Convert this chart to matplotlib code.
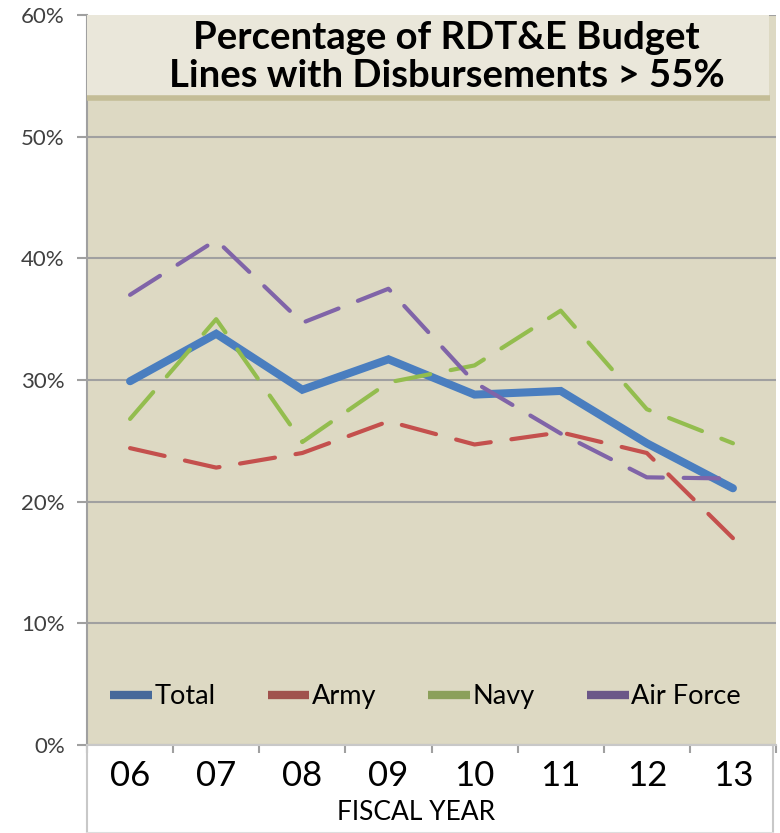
import matplotlib
matplotlib.use('Agg')
import matplotlib.pyplot as plt
from matplotlib.lines import Line2D
from matplotlib.patches import Rectangle
from matplotlib.ticker import FuncFormatter, FixedLocator

plt.rcParams['font.family'] = ['Lato', 'DejaVu Sans']

years = ['06', '07', '08', '09', '10', '11', '12', '13']
total = [29.9, 33.8, 29.2, 31.7, 28.8, 29.1, 24.8, 21.1]
army = [24.4, 22.8, 24.0, 26.6, 24.7, 25.7, 24.0, 17.0]
navy = [26.8, 35.0, 24.9, 29.8, 31.2, 35.7, 27.6, 24.8]
air_force = [37.0, 41.5, 34.7, 37.5, 29.8, 25.6, 22.0, 21.9]

series = ['Total', 'Army', 'Navy', 'Air Force']
line_colors = ['#4A7EBF', '#C4504D', '#93BD4E', '#8064A8']
legend_colors = ['#46699A', '#A0524D', '#8BA05A', '#6B5788']
title = 'Percentage of RDT&E Budget\nLines with Disbursements > 55%'

fig = plt.figure(figsize=(7.8, 8.33), dpi=100)
ax = fig.add_axes([87 / 780, 88 / 833, 689 / 780, 730 / 833])
ax.set_facecolor('#DDD9C3')

x = list(range(len(years)))
grid_c = '#A0A0A0'

ax.plot(x, total, color=line_colors[0], lw=5.8, solid_capstyle='round',
        solid_joinstyle='miter', zorder=3)
for vals, c in zip([army, navy, air_force], line_colors[1:]):
    ax.plot(x, vals, color=c, lw=3.0, dashes=(8.5, 5), dash_capstyle='round',
            zorder=4)

ax.set_xlim(-0.5, len(years) - 0.5)
ax.set_ylim(0, 60)
ax.yaxis.set_major_locator(FixedLocator([0, 10, 20, 30, 40, 50, 60]))
ax.yaxis.set_major_formatter(FuncFormatter(lambda v, p: '{:d}%'.format(int(v))))
ax.grid(axis='y', color=grid_c, lw=1.5, zorder=1)
ax.set_axisbelow(True)

ax.set_xticks(x)
ax.set_xticklabels(years, fontsize=25, color='black')
ax.set_xticks([i - 0.5 for i in range(len(years) + 1)], minor=True)
ax.tick_params(axis='x', which='major', length=0, pad=11)
ax.tick_params(axis='x', which='minor', length=6, width=1.5, color=grid_c)
ax.tick_params(axis='y', length=7, width=1.5, color=grid_c, labelsize=16,
               labelcolor='#404040', pad=9)

for side in ['top', 'right']:
    ax.spines[side].set_visible(False)
ax.spines['left'].set_color(grid_c)
ax.spines['left'].set_linewidth(1.5)
ax.spines['bottom'].set_color('#C8C8C8')
ax.spines['bottom'].set_linewidth(1.5)

# box under the axis
ax.plot([0, 0], [0, -0.1205], transform=ax.transAxes, color='#C8C8C8',
        lw=1.5, clip_on=False)
ax.plot([0.995, 0.995], [0, -0.1205], transform=ax.transAxes, color='#C8C8C8',
        lw=1.5, clip_on=False)
ax.plot([0, 0.995], [-0.1205, -0.1205], transform=ax.transAxes,
        color='#DDDDDD', lw=1.5, clip_on=False)
ax.text(0.478, -0.093, 'FISCAL YEAR', transform=ax.transAxes, ha='center',
        va='center', fontsize=19, color='black')

# title box
ax.add_patch(Rectangle((0, 0.886), 0.99, 0.114, transform=ax.transAxes,
                       facecolor='#EAE7DA', edgecolor='none', zorder=5))
ax.plot([0, 0.991], [0.886, 0.886], transform=ax.transAxes, color='#C4BD97',
        lw=4, solid_capstyle='butt', zorder=6)
ax.text(0.522, 0.9425, title, transform=ax.transAxes, ha='center', va='center',
        fontsize=27.5, fontweight='bold', linespacing=1.13, zorder=7)

handles = [Line2D([], [], color=c, lw=6, solid_capstyle='butt')
           for c in legend_colors]
ax.legend(handles, series, ncol=4, loc='center left',
          bbox_to_anchor=(0.018, 0.066), frameon=False, fontsize=19.5,
          handlelength=1.55, handletextpad=0.1, columnspacing=1.9,
          borderaxespad=0)

fig.savefig('out.png', dpi=100, facecolor='white')
